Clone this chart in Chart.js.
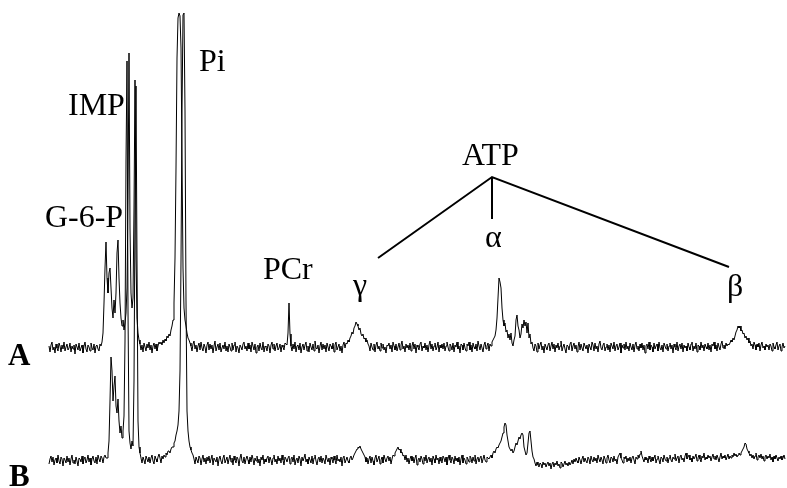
<!DOCTYPE html>
<html>
<head>
<meta charset="utf-8">
<script src="https://cdn.jsdelivr.net/npm/chart.js@4/dist/chart.umd.min.js"></script>
<style>
html,body{margin:0;padding:0;background:#fff;}
#wrap{width:787px;height:488px;position:relative;}
#probe{position:absolute;left:-9999px;top:0;font-family:"Liberation Serif";font-size:30px;}
#probe b{font-weight:bold;}
</style>
</head>
<body>
<div id="wrap"><canvas id="c" width="787" height="488"></canvas></div>
<div id="probe">G-6-P IMP Pi ATP γαβ <b>AB</b></div>
<script>
// Chemical-shift sampling grid (ppm): first point and spacing
const ppmStart = 9.6;
const ppmStep = 0.04;

// Spectrum A intensities (relative to its own baseline)
const spectrumA = [
2,-4,3,6,-2,1,-5,4,0,-3,5,2,-4,3,-1,6,-3,1,4,-2,
0,5,-4,2,-1,3,-6,4,1,-2,5,-3,0,3,-5,2,6,-1,-4,3,
1,-3,5,0,-2,4,-5,2,3,-1,-3,4,2,6,15,45,80,106,70,55,
75,80,60,40,30,48,35,55,95,108,70,45,30,22,28,18,25,35,60,150,
295,120,55,40,50,140,268,90,30,15,8,4,-2,3,-4,5,1,-3,4,0,
6,-2,3,-5,2,5,-1,4,-3,2,6,4,6,3,8,5,9,7,12,10,
14,12,18,22,28,45,90,180,290,330,335,332,300,190,80,40,28,22,15,10,
8,5,2,-3,4,7,-1,3,-4,2,5,-2,6,0,-3,4,1,-5,3,6,
-2,4,-1,3,-5,2,7,-3,1,4,-2,5,-4,0,3,-1,6,-3,2,-4,
4,1,-3,5,-2,3,6,-4,2,0,-5,3,1,-2,4,6,-1,2,-3,5,
-1,3,-4,6,2,-2,4,-5,1,3,-3,5,0,-2,6,-4,2,1,-3,4,
2,-5,3,6,-1,4,-3,2,5,-2,0,4,-4,3,1,-2,5,4,3,15,
45,14,2,-3,4,-1,6,-4,2,3,-2,5,-5,1,4,-2,3,6,-3,2,
-4,5,1,-2,4,-3,7,0,-1,3,-5,2,6,-2,4,-1,3,-4,5,1,
-3,4,2,-1,5,-4,3,6,-2,1,4,-3,2,-5,3,6,0,5,4,8,
6,10,12,16,14,20,22,26,24,22,18,20,14,12,14,9,10,6,8,4,
2,-3,5,1,-2,4,-4,3,6,-1,2,-3,5,0,4,-2,1,-5,3,2,
5,-1,3,-4,6,2,-2,4,-3,1,5,-2,3,7,-1,2,-4,4,0,3,
-2,5,-3,2,6,-1,4,-5,3,1,-2,4,6,-3,2,0,5,-2,3,-4,
3,7,-1,4,-3,2,5,-2,1,6,-4,3,0,4,-1,5,-3,2,6,1,
-3,4,2,-2,5,-4,3,1,6,-1,2,-5,4,3,-2,5,0,-3,4,2,
6,-2,3,-4,5,1,-1,4,-3,7,2,-2,4,0,-4,3,6,-1,2,5,
-3,4,2,6,8,10,12,18,30,50,70,66,60,40,28,22,25,16,18,10,
14,8,15,5,2,8,12,28,33,22,18,10,14,24,20,28,22,26,15,25,
10,14,4,6,0,-3,4,2,-4,5,-1,3,6,-2,2,-5,4,1,-2,3,
5,-3,2,6,-1,4,-4,3,0,5,-2,2,7,-3,1,4,-1,-5,3,2,
-2,4,6,-3,2,5,-1,3,-4,1,6,-2,4,0,-3,5,2,-1,3,-5,
4,1,-2,6,3,-3,5,-1,2,-4,4,7,0,-2,3,5,-3,1,4,-2,
3,-4,5,2,-1,6,-3,2,4,-2,1,5,-5,3,0,4,-2,6,-1,2,
-3,5,1,-2,4,-4,3,6,-1,2,-3,4,0,5,-2,3,-5,2,4,-1,
6,-2,3,1,-4,5,-1,2,4,-3,6,0,-2,3,-4,5,2,-1,4,-3,
2,5,-1,3,-5,4,1,-2,6,-3,2,4,-1,5,-4,3,0,2,-3,5,
1,-2,4,6,-3,2,-1,5,-4,3,2,-2,6,0,3,-3,4,1,-1,5,
-2,3,-4,4,2,6,-1,3,-3,5,1,-2,4,7,0,3,-1,5,2,4,
3,5,8,6,10,8,12,16,18,22,20,22,17,18,14,15,10,12,8,10,
5,7,2,4,-1,6,3,-2,4,1,5,-3,3,6,0,2,-2,4,1,3,
-2,4,2,-3,5,1,-1,3,6,-2,2,4,-3,1,5,0,2
];

// Spectrum B intensities (relative to its own baseline)
const spectrumB = [
-3,2,5,-1,4,-4,1,3,-2,6,0,-3,4,2,-5,3,1,-2,5,-1,
3,-4,2,6,-2,1,-3,4,0,-5,3,2,-1,5,-3,2,4,-2,1,6,
-1,3,-4,2,5,0,-2,4,-3,6,2,-1,5,3,-2,4,6,3,3,8,
20,60,104,90,60,75,85,55,48,62,40,28,35,23,30,45,120,300,400,150,
30,18,12,20,15,80,250,375,200,40,14,8,3,-2,4,1,-3,5,2,-1,
4,-2,3,6,0,-3,5,2,-1,4,7,3,-2,5,2,6,4,8,6,10,
10,8,12,14,14,18,20,26,30,36,50,90,200,350,446,448,350,160,50,30,
20,14,11,8,6,2,-3,4,1,-2,5,3,-4,2,6,-1,3,-3,4,0,
5,-2,2,6,-4,3,1,-1,4,-5,2,5,0,-3,3,6,-2,1,4,-3,
2,6,-1,3,-4,5,1,-2,4,2,-5,3,7,0,-2,4,-3,2,5,1,
-3,4,-1,6,2,-4,3,0,5,-2,2,-5,4,1,6,-3,2,-1,3,5,
-2,4,1,-4,3,6,-1,2,-3,5,0,3,-2,6,1,-4,4,2,-1,3,
5,-3,2,4,-1,6,-4,1,3,-2,5,2,-5,4,0,3,7,-1,2,-3,
4,1,-2,5,-3,3,6,0,-4,2,4,-1,5,-2,3,1,-3,6,2,-1,
3,-4,4,2,-2,5,1,-3,6,0,2,-1,4,-5,3,5,-2,1,4,0,
-2,3,5,1,3,6,8,10,12,14,13,15,12,10,8,6,4,-1,3,-3,
2,5,-2,4,0,-4,3,6,-1,2,5,-3,1,4,-2,6,2,-1,3,5,
0,4,-3,2,6,5,8,10,12,14,11,12,8,9,5,6,1,6,-1,3,
-3,2,5,0,4,-2,3,6,-4,1,3,-1,5,2,-3,4,0,6,-2,2,
4,-1,3,-4,5,2,-2,6,1,3,-3,4,0,-2,5,3,-1,4,-4,2,
6,1,-2,4,2,-3,5,0,3,-1,4,-4,2,6,-2,3,1,-3,4,2,
-1,5,3,-2,4,0,6,-3,2,4,-1,3,5,-2,2,6,1,-1,4,3,
2,4,6,3,8,10,8,12,14,13,16,18,20,24,28,34,38,36,26,20,
14,12,10,12,8,10,14,18,16,20,24,22,26,28,26,14,10,6,8,18,
28,30,20,10,4,2,-2,-5,-1,-4,-6,-2,-3,-7,-1,-4,-2,-6,-3,-1,
-5,-2,-8,-3,-1,-6,-2,-4,0,-5,-3,-7,-1,-2,-6,-3,0,-4,-2,-5,
-1,-4,-2,1,-3,2,-1,3,0,-2,4,1,-3,2,5,-1,3,0,-2,4,
2,-3,5,1,-1,4,0,3,-2,6,2,-1,4,1,-3,5,2,-2,3,6,
1,-2,4,3,-1,5,0,2,-3,4,6,8,3,1,-2,4,2,5,-1,3,
0,4,-2,3,5,1,-3,4,2,6,3,7,10,5,2,-1,4,1,3,-2,
5,2,-1,4,0,3,6,-2,2,5,1,-3,4,3,-1,6,2,0,4,-2,
3,6,1,-1,4,2,7,0,3,5,-2,4,6,1,3,-1,5,8,2,4,
6,1,3,-1,5,2,4,7,0,3,6,2,-1,5,3,8,1,4,2,6,
3,5,0,4,7,2,5,1,6,3,-1,4,8,2,5,3,6,1,4,7,
2,5,3,6,4,8,5,7,4,6,8,6,8,10,12,14,18,17,12,10,
8,5,7,3,6,2,5,8,1,4,6,3,7,2,5,0,4,6,2,5,
3,7,1,4,-1,5,2,6,3,0,4,2,5,1,3,6,2
];

// Peak labels and trace labels
const peakLabels = ["G-6-P","IMP","Pi","PCr","ATP","γ","α","β"];
const traceLabels = ["A","B"];

// stacking offsets (display positions of the two traces)
const offsetA = 140, offsetB = 27;

function toPoints(arr, off){
  return arr.map((v,i)=>({x: ppmStart - i*ppmStep, y: v + off}));
}

const SERIF = '"Liberation Serif", "Times New Roman", Times, serif';

function stretchText(ctx, t, x, y, sx){
  ctx.save();
  ctx.translate(x, y);
  ctx.scale(sx, 1);
  ctx.fillText(t, 0, 0);
  ctx.restore();
}

const annot = {
  id:'annot',
  afterDatasetsDraw(chart){
    const ctx = chart.ctx;
    ctx.save();
    ctx.fillStyle = '#000';
    ctx.textBaseline = 'alphabetic';
    ctx.textAlign = 'left';
    ctx.font = '31px ' + SERIF;
    const pos = {
      "G-6-P":[45,227], "IMP":[68,115], "Pi":[199,71], "PCr":[263,279],
      "ATP":[462,165], "γ":[353,295], "α":[485,247], "β":[727,296]
    };
    peakLabels.forEach(t=>{ const p=pos[t]; stretchText(ctx, t, p[0], p[1], 1.03); });
    // ATP bracket
    ctx.strokeStyle='#000'; ctx.lineWidth=2;
    ctx.beginPath();
    ctx.moveTo(378,258); ctx.lineTo(492,177); ctx.lineTo(729,267);
    ctx.moveTo(492,177); ctx.lineTo(492,219);
    ctx.stroke();
    // trace letters
    ctx.font = 'bold 31px ' + SERIF;
    ctx.fillText(traceLabels[0], 8, 365);
    ctx.fillText(traceLabels[1], 9, 486);
    ctx.restore();
  }
};

function draw(){
  new Chart(document.getElementById('c'), {
    type:'line',
    data:{
      datasets:[
        {label:'A', data: toPoints(spectrumA, offsetA), borderColor:'#000', borderWidth:1, pointRadius:0, tension:0, fill:false},
        {label:'B', data: toPoints(spectrumB, offsetB), borderColor:'#000', borderWidth:1, pointRadius:0, tension:0, fill:false}
      ]
    },
    options:{
      responsive:false, animation:false, devicePixelRatio:1,
      layout:{padding:0},
      plugins:{legend:{display:false}, tooltip:{enabled:false}},
      scales:{
        x:{type:'linear', reverse:true, min:-19.92, max:11.56, display:false},
        y:{type:'linear', min:0, max:488, display:false}
      }
    },
    plugins:[annot]
  });
}

Promise.all([
  document.fonts.load('31px "Liberation Serif"', 'G-6-P γαβ'),
  document.fonts.load('bold 31px "Liberation Serif"', 'AB')
]).then(draw, draw);
</script>
</body>
</html>
